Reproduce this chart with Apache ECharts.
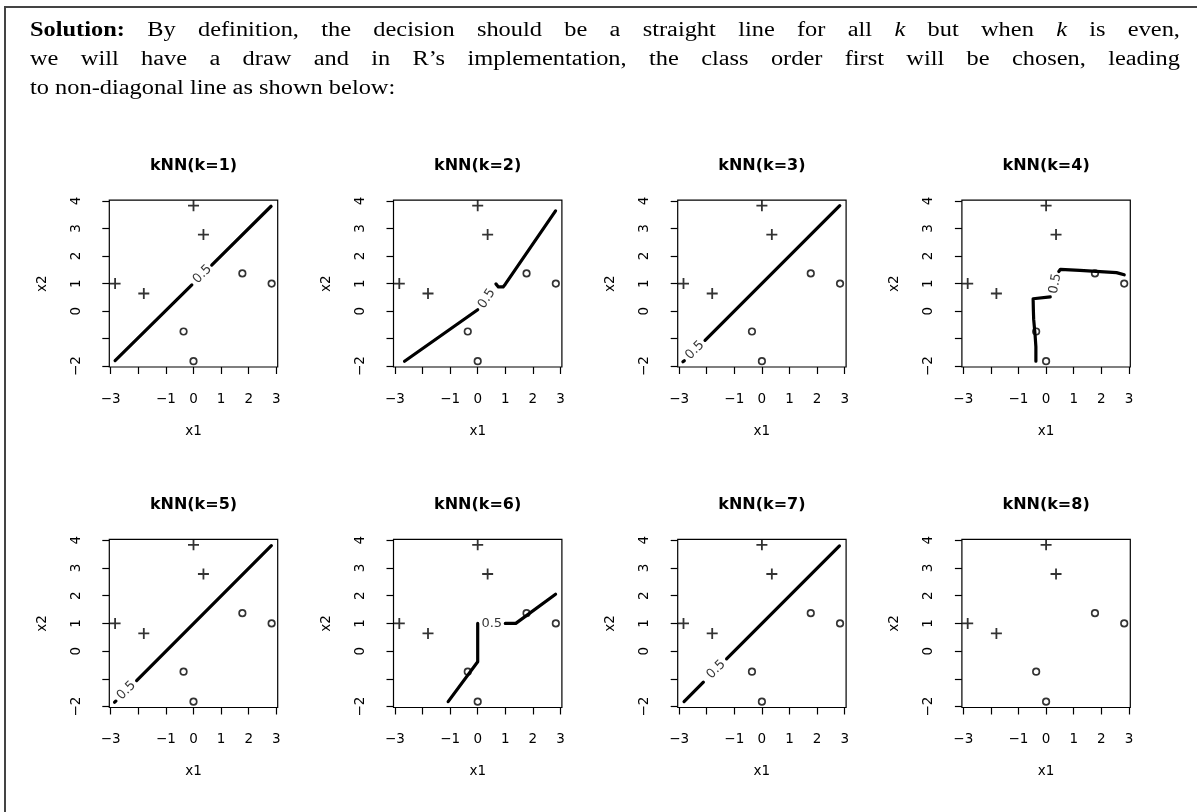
<!DOCTYPE html>
<html>
<head>
<meta charset="utf-8">
<title>kNN decision boundaries</title>
<script src="https://cdn.jsdelivr.net/npm/echarts@6/dist/echarts.min.js"></script>
<style>
  html, body { margin: 0; padding: 0; background: #fff; }
  #page { position: relative; width: 1197px; height: 812px; overflow: hidden; }
  #frame {
    position: absolute; left: 4px; top: 6px; width: 1300px; height: 900px;
    border-top: 2px solid #444; border-left: 2px solid #444;
  }
  #chart { position: absolute; left: 0; top: 0; width: 1197px; height: 812px; }
  #text {
    position: absolute; left: 30px; top: 15px; width: 942.6px;
    transform: scaleX(1.22); transform-origin: left top;
    font-family: 'Liberation Serif', serif; font-size: 20px; line-height: 29px;
    color: #000;
  }
  #text .j { text-align: justify; text-align-last: justify; }
</style>
</head>
<body>
<div id="page">
  <div id="frame"></div>
  <div id="chart"></div>
  <div id="text">
    <div class="j"><b>Solution:</b> By definition, the decision should be a straight line for all <i>k</i> but when <i>k</i> is even,</div>
    <div class="j">we will have a draw and in R’s implementation, the class order first will be chosen, leading</div>
    <div>to non-diagonal line as shown below:</div>
  </div>
</div>
<script>
// panel data
const panelTitles = ['kNN(k=1)', 'kNN(k=2)', 'kNN(k=3)', 'kNN(k=4)',
                     'kNN(k=5)', 'kNN(k=6)', 'kNN(k=7)', 'kNN(k=8)'];

// training points, class "+" and class "o"
const plusX = [-2.84, -1.8, 0.0, 0.36];
const plusY = [1.0, 0.64, 3.83, 2.78];
const circleX = [-0.36, 0.0, 1.77, 2.83];
const circleY = [-0.74, -1.82, 1.37, 1.0];

// axis ticks / labels (R drops the labels that would overlap)
const xTickValues = [-3, -2, -1, 0, 1, 2, 3];
const xLabelValues = [-3, -1, 0, 1, 2, 3];
const yTickValues = [-2, -1, 0, 1, 2, 3, 4];
const yLabelValues = [-2, 0, 1, 2, 3, 4];

// 0.5 contour of each fit, as line pieces (broken where R put the label)
const boundaryK1 = [
  [[-2.84, -1.8], [-0.06, 0.95]],
  [[0.66, 1.67], [2.81, 3.81]]
];
const boundaryK2 = [
  [[-2.65, -1.82], [0.0, 0.05]],
  [[0.66, 0.99], [0.75, 0.88], [0.92, 0.88], [1.0, 0.98], [2.82, 3.64]]
];
const boundaryK3 = [
  [[-2.86, -1.84], [-2.81, -1.8]],
  [[-2.06, -1.06], [2.82, 3.83]]
];
const boundaryK4 = [
  [[-0.37, -1.82], [-0.37, -1.3], [-0.4, -0.85], [-0.45, -0.3], [-0.46, 0.0],
   [-0.47, 0.45], [-0.44, 0.52], [0.15, 0.52]],
  [[0.46, 1.44], [0.52, 1.52], [1.22, 1.48], [1.27, 1.42], [2.55, 1.4],
   [2.6, 1.33], [2.83, 1.32]]
];
const boundaryK5 = [
  [[-2.86, -1.84], [-2.81, -1.8]],
  [[-2.06, -1.06], [2.82, 3.8]]
];
const boundaryK6 = [
  [[-1.07, -1.82], [0.0, -0.38], [0.0, 1.0]],
  [[1.0, 1.0], [1.38, 1.0], [2.82, 2.05]]
];
const boundaryK7 = [
  [[-2.82, -1.82], [-2.12, -1.12]],
  [[-1.28, -0.28], [2.81, 3.79]]
];
const boundaryK8 = [];
const boundaries = [boundaryK1, boundaryK2, boundaryK3, boundaryK4,
                    boundaryK5, boundaryK6, boundaryK7, boundaryK8];

// where the "0.5" contour label sits in each panel
const contourLabels = [[0.32, 1.34], [0.33, 0.45], [-2.43, -1.42], [0.33, 1.0],
                       [-2.43, -1.42], [0.51, 1.0], [-1.66, -0.66], null];

// layout / style
const labelAngles = [45, 57, 45, 80, 45, 0, 45, 0];
const BOX_LEFT = 109.3;
const COL_STEP = 284.2;
const BOX_W = 168.4;
const ROW_TOP = [200.2, 539.3];
const BOX_H = [166.8, 168.2];
const SANS = 'DejaVu Sans';
const PLUS = 'path://M4.6,0h1.8v4.6h4.6v1.8h-4.6v4.6h-1.8v-4.6h-4.6v-1.8h4.6z';

const fmt = v => String(v).replace('-', '\u2212');
const toPairs = (xs, ys) => xs.map((x, i) => [x, ys[i]]);

const chart = echarts.init(document.getElementById('chart'));

const grid = [], xAxis = [], yAxis = [], title = [], series = [];

panelTitles.forEach((name, i) => {
  const col = i % 4, row = Math.floor(i / 4);
  const left = BOX_LEFT + col * COL_STEP;
  const top = ROW_TOP[row];

  grid.push({
    left, top, width: BOX_W, height: BOX_H[row],
    show: true, borderColor: '#000', borderWidth: 1.2
  });

  title.push({
    text: name, left: left + BOX_W / 2, top: top - 42,
    textAlign: 'center', padding: 0,
    textStyle: { fontFamily: SANS, fontWeight: 'bold', fontSize: 16, color: '#000' }
  });

  xAxis.push({
    gridIndex: i, type: 'value', min: -3.05, max: 3.05,
    name: 'x1', nameLocation: 'middle', nameGap: 57,
    nameTextStyle: { fontFamily: SANS, fontSize: 13.5, color: '#000' },
    axisLine: { show: false, onZero: false },
    axisTick: { show: true, length: 7, customValues: xTickValues,
                lineStyle: { color: '#000', width: 1.2 } },
    axisLabel: { customValues: xLabelValues, margin: 25, formatter: fmt,
                 fontFamily: SANS, fontSize: 13.5, color: '#000' },
    splitLine: { show: false }
  });

  yAxis.push({
    gridIndex: i, type: 'value', min: -2.03, max: 4.03,
    name: 'x2', nameLocation: 'middle', nameGap: 60,
    nameTextStyle: { fontFamily: SANS, fontSize: 13.5, color: '#000' },
    axisLine: { show: false, onZero: false },
    axisTick: { show: true, length: 7, customValues: yTickValues,
                lineStyle: { color: '#000', width: 1.2 } },
    axisLabel: { customValues: yLabelValues, margin: 26, rotate: 90, formatter: fmt,
                 fontFamily: SANS, fontSize: 13.5, color: '#000' },
    splitLine: { show: false }
  });

  boundaries[i].forEach(piece => {
    series.push({
      type: 'line', xAxisIndex: i, yAxisIndex: i,
      data: piece, symbol: 'none', silent: true,
      lineStyle: { color: '#000', width: 3.2, cap: 'round', join: 'round' }
    });
  });

  if (contourLabels[i]) {
    series.push({
      type: 'scatter', xAxisIndex: i, yAxisIndex: i,
      data: [contourLabels[i]], symbolSize: 1, silent: true,
      itemStyle: { color: 'rgba(0,0,0,0)' },
      label: { show: true, position: 'inside', formatter: '0.5',
               rotate: labelAngles[i], fontFamily: SANS, fontSize: 13, color: '#000' }
    });
  }

  series.push({
    type: 'scatter', xAxisIndex: i, yAxisIndex: i,
    data: toPairs(plusX, plusY), symbol: PLUS, symbolSize: 11, silent: true,
    itemStyle: { color: '#000' }
  });
  series.push({
    type: 'scatter', xAxisIndex: i, yAxisIndex: i,
    data: toPairs(circleX, circleY), symbol: 'circle', symbolSize: 6.5, silent: true,
    itemStyle: { color: 'rgba(0,0,0,0)', borderColor: '#000', borderWidth: 1.7 }
  });
});

chart.setOption({
  animation: false,
  backgroundColor: 'transparent',
  title, grid, xAxis, yAxis, series
});
</script>
</body>
</html>
